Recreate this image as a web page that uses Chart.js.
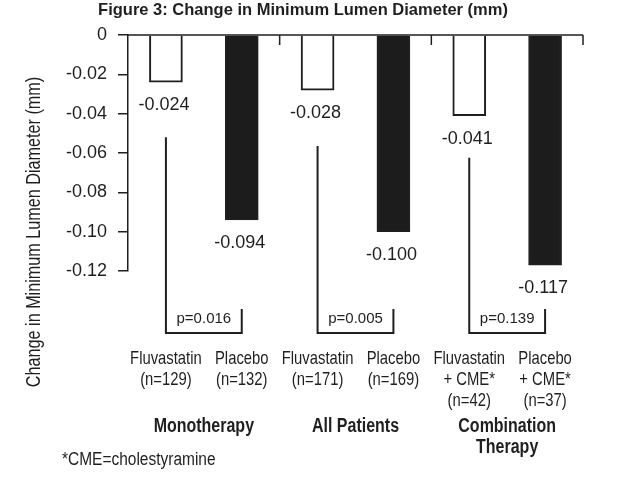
<!DOCTYPE html>
<html>
<head>
<meta charset="utf-8">
<script src="https://cdn.jsdelivr.net/npm/chart.js@4.4.1/dist/chart.umd.min.js"></script>
<style>
html,body{margin:0;padding:0;background:#ffffff;}
#wrap{width:624px;height:491px;position:relative;}
</style>
</head>
<body>
<div id="wrap"><canvas id="c" width="624" height="491"></canvas></div>
<script>
// ---- data ----
const groups = [['Monotherapy'], ['All Patients'], ['Combination', 'Therapy']];
const treatments = ['Fluvastatin', 'Placebo', 'Fluvastatin', 'Placebo', 'Fluvastatin', 'Placebo'];
const addOns = ['', '', '', '', '+ CME*', '+ CME*'];
const nCounts = [129, 132, 171, 169, 42, 37];
const changeMLD = [-0.024, -0.094, -0.028, -0.100, -0.041, -0.117];
const valueLabels = ['-0.024', '-0.094', '-0.028', '-0.100', '-0.041', '-0.117'];
const pValues = ['0.016', '0.005', '0.139'];
const yTickValues = [0, -0.02, -0.04, -0.06, -0.08, -0.10, -0.12];
const yTickLabels = ['0', '-0.02', '-0.04', '-0.06', '-0.08', '-0.10', '-0.12'];
const titleText = 'Figure 3: Change in Minimum Lumen Diameter (mm)';
const yAxisTitle = 'Change in Minimum Lumen Diameter (mm)';
const footnote = '*CME=cholestyramine';

// ---- styling ----
const INK = '#1f1f1f';
const SANS = "'Liberation Sans', Arial, sans-serif";
const bracketGap = [55, 56, 42];

const categoryLabels = treatments.map((t, i) => [t, addOns[i], '(n=' + nCounts[i] + ')'].filter(s => s));

// condensed text: Liberation Sans squeezed horizontally (no narrow face installed)
function narrowText(ctx, text, x, y, size, bold, sx, align) {
  ctx.save();
  ctx.translate(x, y);
  ctx.scale(sx, 1);
  ctx.font = (bold ? 'bold ' : '') + size + 'px ' + SANS;
  ctx.textAlign = align || 'center';
  ctx.textBaseline = 'alphabetic';
  ctx.fillText(text, 0, 0);
  ctx.restore();
}

const annotate = {
  id: 'annotate',
  afterDraw(chart) {
    const {ctx, chartArea: ca, scales} = chart;
    const x = scales.x, y = scales.y;
    ctx.save();
    ctx.strokeStyle = INK;
    ctx.fillStyle = INK;

    // top axis line at zero with group-boundary ticks
    const y0 = y.getPixelForValue(0);
    ctx.lineWidth = 1.5;
    ctx.beginPath();
    ctx.moveTo(ca.left, y0);
    ctx.lineTo(ca.right, y0);
    for (let g = 0; g < groups.length; g++) {
      const xb = x.getPixelForValue(2 * g + 1.5);
      ctx.moveTo(xb, y0);
      ctx.lineTo(xb, y0 + 10);
    }
    ctx.stroke();

    // value labels under bars
    ctx.font = '18px ' + SANS;
    ctx.textAlign = 'center';
    ctx.textBaseline = 'alphabetic';
    changeMLD.forEach((v, i) => {
      const xc = x.getPixelForValue(i);
      const yb = y.getPixelForValue(v);
      ctx.fillText(valueLabels[i], xc - 2, yb + 28);
    });

    // p-value brackets
    ctx.lineWidth = 2;
    pValues.forEach((p, g) => {
      const xl = x.getPixelForValue(2 * g);
      const xr = x.getPixelForValue(2 * g + 1);
      const top = y.getPixelForValue(changeMLD[2 * g]) + bracketGap[g];
      const bottom = ca.bottom + 62;
      const rTop = ca.bottom + 38;
      ctx.beginPath();
      ctx.moveTo(xl, top);
      ctx.lineTo(xl, bottom);
      ctx.lineTo(xr, bottom);
      ctx.lineTo(xr, rTop);
      ctx.stroke();
      ctx.font = '15px ' + SANS;
      ctx.textAlign = 'center';
      ctx.fillText('p=' + p, (xl + xr) / 2, ca.bottom + 52);
    });

    // category labels (x axis)
    categoryLabels.forEach((lines, i) => {
      const xc = x.getPixelForValue(i);
      lines.forEach((ln, k) => narrowText(ctx, ln, xc, 364 + k * 21, 19, false, 0.78));
    });

    // group labels
    groups.forEach((lines, g) => {
      const xc = x.getPixelForValue(2 * g + 0.5);
      lines.forEach((ln, k) => narrowText(ctx, ln, xc, 432 + k * 21, 19.5, true, 0.82));
    });

    // title
    ctx.font = 'bold 16.5px ' + SANS;
    ctx.textAlign = 'center';
    ctx.fillText(titleText, 303, 15);

    // footnote
    narrowText(ctx, footnote, 62, 465, 18, false, 0.86, 'left');

    // y-axis title
    ctx.save();
    ctx.translate(40, 232);
    ctx.rotate(-Math.PI / 2);
    narrowText(ctx, yAxisTitle, 0, 0, 19.5, false, 0.83);
    ctx.restore();

    ctx.restore();
  }
};

new Chart(document.getElementById('c'), {
  type: 'bar',
  data: {
    labels: categoryLabels,
    datasets: [{
      data: changeMLD,
      backgroundColor: c => (c.dataIndex % 2 === 0 ? '#ffffff' : '#1c1c1c'),
      borderColor: INK,
      borderWidth: 2,
      barThickness: 33
    }]
  },
  options: {
    responsive: false,
    devicePixelRatio: 1,
    animation: false,
    layout: {padding: {top: 35, right: 41, bottom: 0, left: 0}},
    plugins: {legend: {display: false}, tooltip: {enabled: false}, title: {display: false}},
    scales: {
      x: {
        grid: {display: false, drawTicks: false},
        border: {display: false},
        ticks: {display: false},
        afterFit: s => { s.height = 220; }
      },
      y: {
        min: -0.12,
        max: 0,
        grid: {drawOnChartArea: false, drawTicks: true, tickLength: 10, color: INK, lineWidth: 1.5},
        border: {display: true, color: INK, width: 1.5},
        afterBuildTicks: s => { s.ticks = yTickValues.map(v => ({value: v})); },
        ticks: {
          padding: 11,
          color: INK,
          font: {family: SANS, size: 18},
          callback: v => {
            const k = yTickValues.findIndex(t => Math.abs(t - v) < 1e-9);
            return k >= 0 ? yTickLabels[k] : '';
          }
        },
        afterFit: s => { s.width = 128; }
      }
    }
  },
  plugins: [annotate]
});
</script>
</body>
</html>
